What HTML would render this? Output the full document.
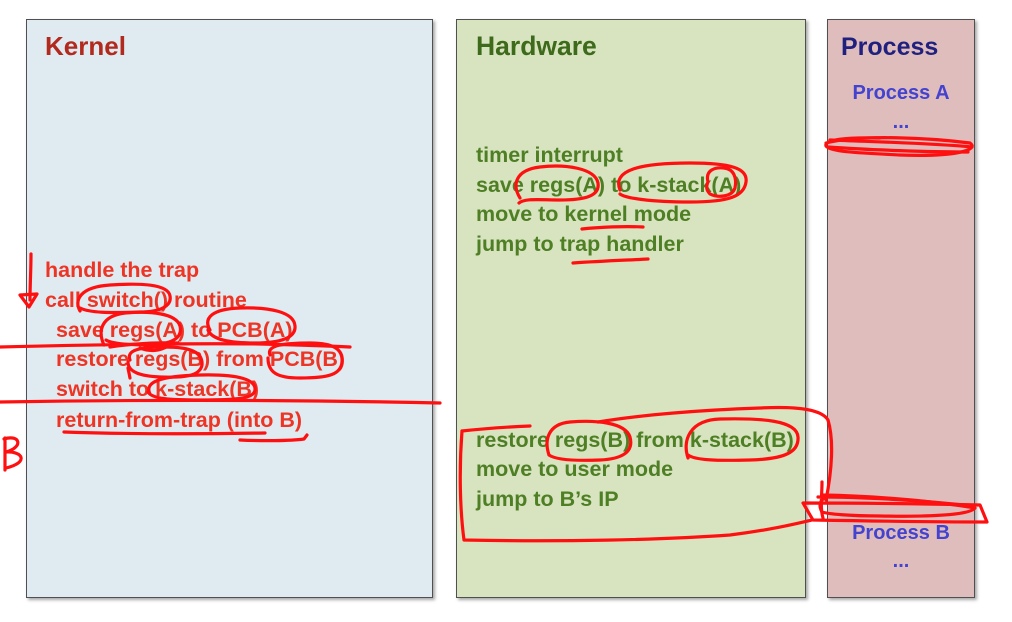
<!DOCTYPE html>
<html><head><meta charset="utf-8">
<style>
html,body{margin:0;padding:0;background:#fff;}
body{width:1012px;height:622px;position:relative;overflow:hidden;font-family:"Liberation Sans",sans-serif;font-weight:bold;}
.box{position:absolute;border:1px solid #505050;box-shadow:2px 2px 3px rgba(0,0,0,0.35);box-sizing:border-box;}
.t{position:absolute;white-space:nowrap;line-height:30px;height:30px;}
.k{color:#ee3424;font-size:21.5px;}
.h{color:#4e7f24;font-size:21.5px;}
.p{color:#4343cf;font-size:20px;}
svg{position:absolute;left:0;top:0;}
</style></head><body>
<div class="box" style="left:26px;top:19px;width:407px;height:579px;background:#dfebf1;"></div>
<div class="box" style="left:456px;top:19px;width:350px;height:579px;background:#d8e4c0;"></div>
<div class="box" style="left:827px;top:19px;width:148px;height:579px;background:#dfbdbc;"></div>

<div class="t" style="left:45px;top:31px;font-size:26px;color:#b22a1e;">Kernel</div>
<div class="t" style="left:476px;top:31px;font-size:26.5px;color:#3d6a1b;">Hardware</div>
<div class="t" style="left:841px;top:32px;font-size:25px;color:#20207f;">Process</div>

<div class="t k" style="left:45px;top:255px;">handle the trap</div>
<div class="t k" style="left:45px;top:285px;">call switch() routine</div>
<div class="t k" style="left:56px;top:315px;">save regs(A) to PCB(A)</div>
<div class="t k" style="left:56px;top:344px;">restore regs(B) from PCB(B)</div>
<div class="t k" style="left:56px;top:374px;">switch to k-stack(B)</div>
<div class="t k" style="left:56px;top:405px;">return-from-trap (into B)</div>

<div class="t h" style="left:476px;top:140px;">timer interrupt</div>
<div class="t h" style="left:476px;top:170px;">save regs(A) to k-stack(A)</div>
<div class="t h" style="left:476px;top:199px;">move to kernel mode</div>
<div class="t h" style="left:476px;top:229px;">jump to trap handler</div>
<div class="t h" style="left:476px;top:425px;">restore regs(B) from k-stack(B)</div>
<div class="t h" style="left:476px;top:454px;">move to user mode</div>
<div class="t h" style="left:476px;top:484px;">jump to B’s IP</div>

<div class="t p" style="left:827px;width:148px;text-align:center;top:78px;">Process A</div>
<div class="t p" style="left:827px;width:148px;text-align:center;top:107px;">...</div>
<div class="t p" style="left:827px;width:148px;text-align:center;top:518px;">Process B</div>
<div class="t p" style="left:827px;width:148px;text-align:center;top:546px;">...</div>

<svg width="1012" height="622" viewBox="0 0 1012 622" fill="none" stroke="#ff1010" stroke-width="3.2" stroke-linecap="round" stroke-linejoin="round">
<path d="M31,254 C31,270 30,285 30,300"/>
<path d="M20,295 L37,294 L29,307 Z"/>
<path d="M5,438 L5,470 M4,439 C20,434 24,447 6,452 C22,451 30,462 6,468"/>
<path d="M0,347 C80,345 180,343 260,344 C300,345 330,346 350,347"/>
<path d="M0,402 C120,400 260,399 440,403"/>
<path d="M80,311 C74,300 80,287 110,285 C140,283 168,284 170,296 C172,306 160,312 140,312 C110,313 90,313 80,308"/>
<path d="M104,345 C98,332 100,316 125,313 C150,311 176,313 180,326 C183,338 172,344 150,345 C130,345 112,344 106,340 M110,347 C130,344 160,342 178,343 M140,348 C150,352 160,351 168,346"/>
<path d="M210,330 C203,318 212,309 240,308 C270,307 294,312 295,326 C296,338 280,343 255,343 C230,343 212,340 208,330"/>
<path d="M130,360 C126,350 140,347 165,347 C190,347 203,352 202,365 C200,376 185,378 160,377 C140,376 128,372 128,362 M130,378 L128,368"/>
<path d="M270,355 C266,345 285,343 310,343 C335,343 343,350 342,362 C341,374 330,378 300,378 C278,378 268,373 268,358"/>
<path d="M150,394 C144,382 160,376 200,375 C240,374 256,380 255,390 C254,399 235,400 200,400 C170,400 152,399 148,392"/>
<path d="M64,432 C120,434 200,434 265,433"/>
<path d="M240,440 C260,441 290,441 304,439 L307,435"/>
<path d="M520,198 C512,185 515,170 540,167 C565,164 595,168 598,183 C600,196 585,200 560,200 C540,200 525,198 519,203"/>
<path d="M620,190 C612,170 640,163 690,163 C730,163 748,168 746,182 C744,196 730,202 690,202 C650,202 625,198 620,194"/>
<path d="M708,182 C705,170 715,167 724,168 C734,169 737,178 735,188 C732,197 718,198 710,194 C706,190 706,186 708,182"/>
<path d="M582,229 C600,227 625,226 643,227"/>
<path d="M573,263 C600,261 630,260 648,259"/>
<path d="M462,431 C480,429 505,427 530,426"/>
<path d="M462,431 C459,470 460,510 464,540 C560,542 660,540 730,535 C770,530 795,524 812,520"/>
<path d="M598,422 C640,415 700,410 760,408 C800,406 822,410 828,420 C834,440 832,470 826,500"/>
<path d="M549,455 C544,440 548,424 570,422 C595,420 625,422 630,437 C634,452 622,459 600,460 C575,461 556,460 549,455"/>
<path d="M688,458 C682,440 690,420 720,419 C760,418 797,420 798,437 C799,452 785,459 750,460 C715,461 695,460 688,455"/>
<path d="M826,143 C860,134 930,138 970,143 C980,150 955,157 900,155 C860,153 830,152 826,146 C824,140 845,137 880,138"/>
<path d="M828,147 C870,150 930,152 968,152 M830,140 C880,142 930,143 972,147"/>
<path d="M803,503 C860,503 930,504 980,505 L987,522 C930,522 870,521 813,520 Z"/>
<path d="M822,495 C880,496 940,502 975,508 C970,515 930,517 880,516 C850,516 828,514 822,512 C818,505 820,498 830,496"/>
<path d="M822,482 C822,495 820,508 823,518 M818,497 C860,497 920,500 972,506"/>
</svg>
</body></html>
